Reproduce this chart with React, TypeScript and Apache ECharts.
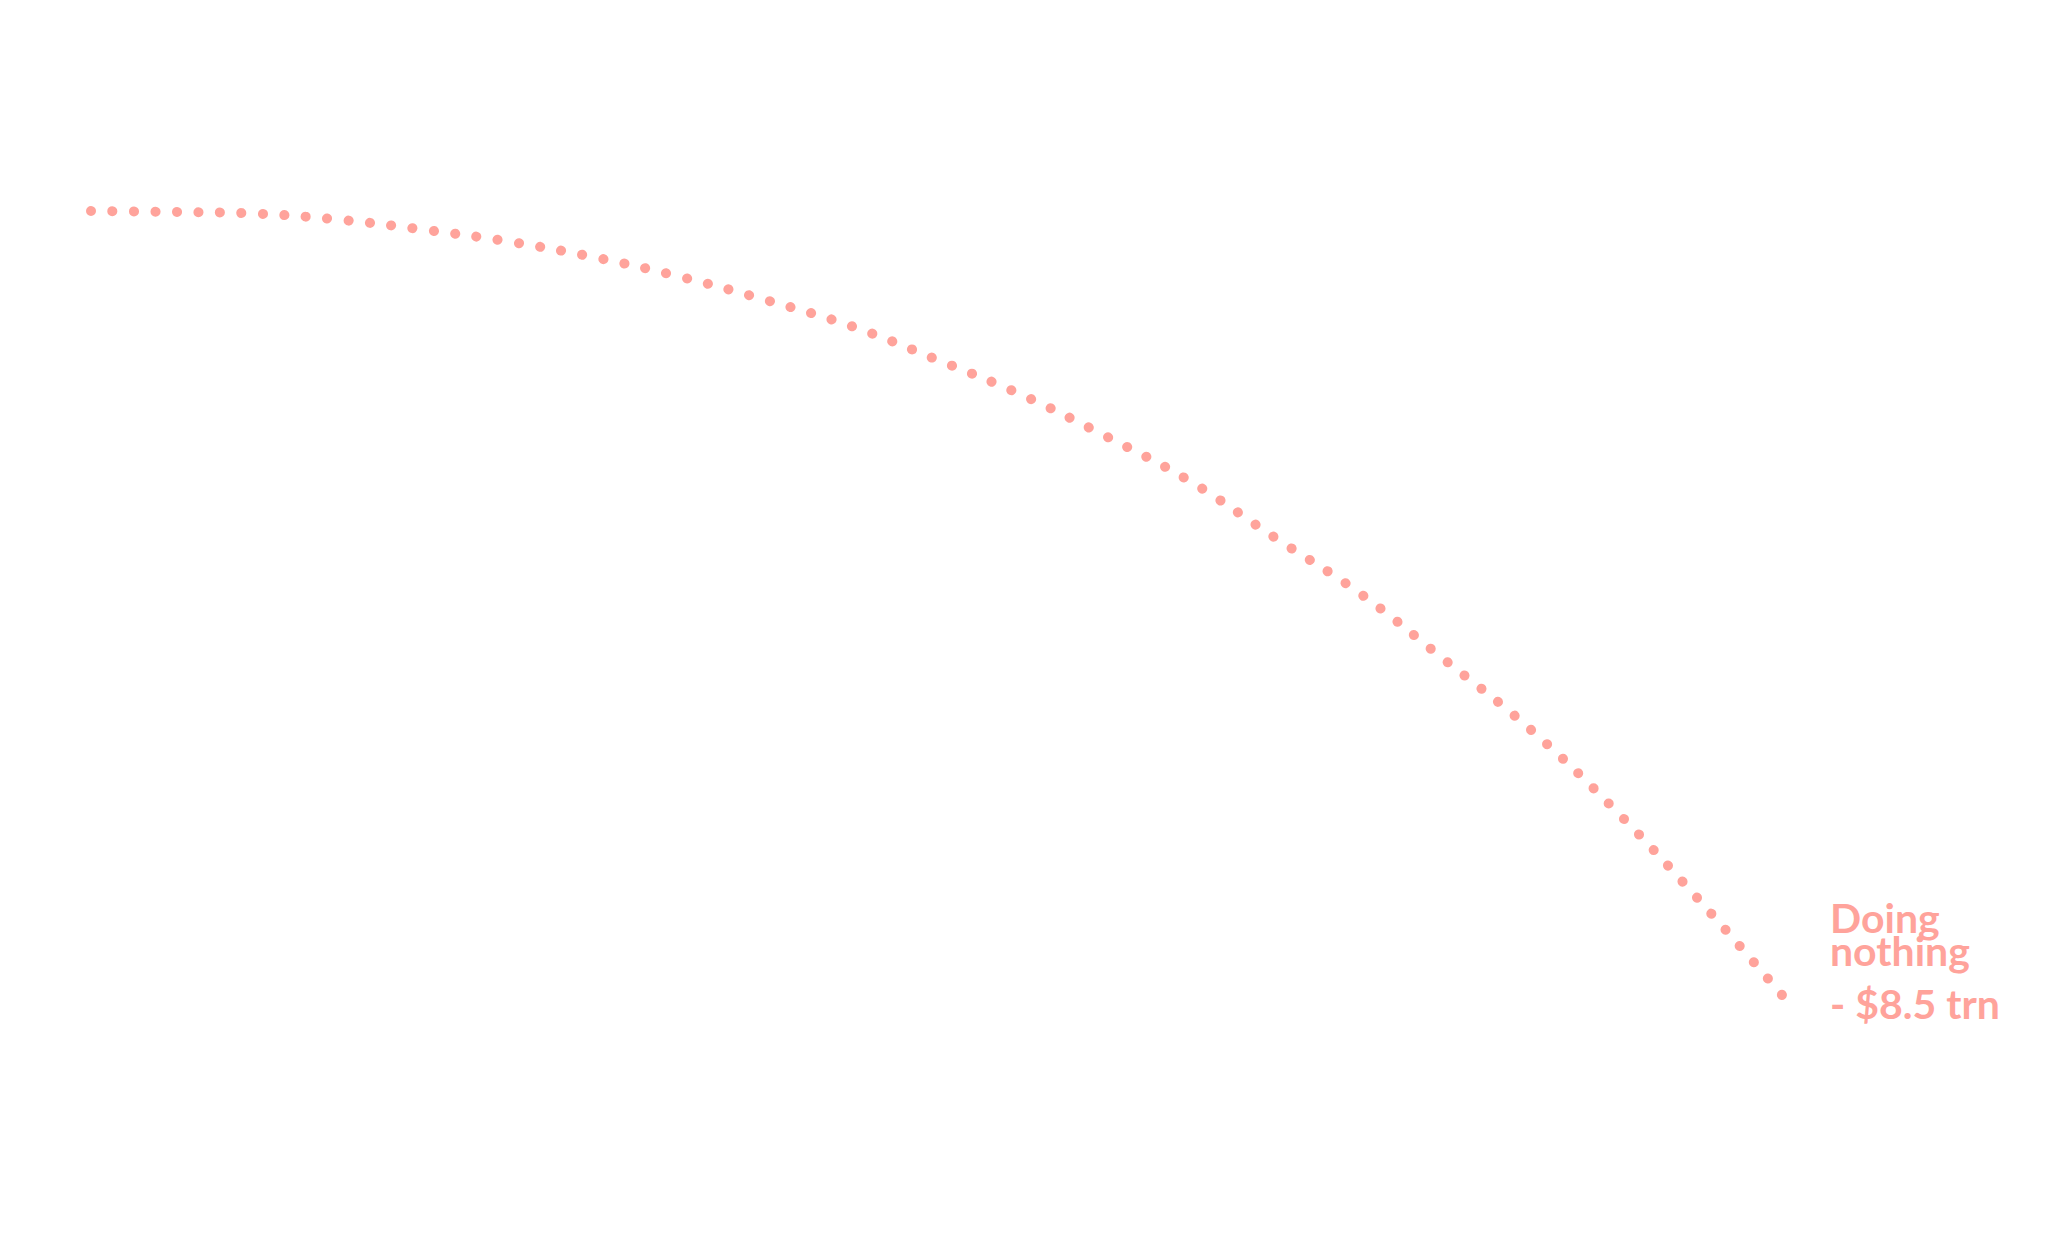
import React, { useEffect, useRef } from "react";
import * as echarts from "echarts";

const years = [2020, 2024, 2028, 2032, 2036, 2040, 2044, 2048, 2052, 2056, 2060, 2064, 2068, 2072, 2076, 2080, 2084, 2088, 2092, 2096, 2100];
const doingNothing = [0, -0.01, -0.03, -0.1, -0.21, -0.34, -0.51, -0.72, -0.97, -1.25, -1.61, -1.99, -2.44, -2.93, -3.54, -4.14, -4.86, -5.6, -6.47, -7.45, -8.5];
const labelTitle = "Doing nothing";
const labelValue = "- $8.5 trn";

const COLOR = "#ffa39b";

export default function App() {
  const ref = useRef<HTMLDivElement>(null);
  useEffect(() => {
    document.body.style.margin = "0";
    const chart = echarts.init(ref.current!, null, { renderer: "svg" });
    const data = years.map((y, i) => [y, doingNothing[i]]);
    chart.setOption({
      animation: false,
      backgroundColor: "#ffffff",
      grid: { left: 91, right: 275, top: 211, bottom: 246 },
      xAxis: { type: "value", min: 2020, max: 2100, show: false },
      yAxis: { type: "value", min: -8.5, max: 0, show: false },
      series: [
        {
          type: "line",
          data,
          smooth: 0.4,
          showSymbol: false,
          clip: false,
          lineStyle: { color: COLOR, width: 10, type: [0.1, 21.38], cap: "round", join: "round" },
          endLabel: {
            show: true,
            offset: [40, -25],
            formatter: () => `{a|Doing}\n{a|nothing}\n{b|${labelValue}}`,
            rich: {
              a: { fontFamily: "Lato", fontWeight: "bold", fontSize: 41, lineHeight: 33, color: COLOR },
              b: { fontFamily: "Lato", fontWeight: "bold", fontSize: 41, lineHeight: 73, color: COLOR },
            },
          },
        },
      ],
    });
    return () => chart.dispose();
  }, []);
  return <div ref={ref} style={{ width: 2057, height: 1241 }} aria-label={labelTitle} />;
}
